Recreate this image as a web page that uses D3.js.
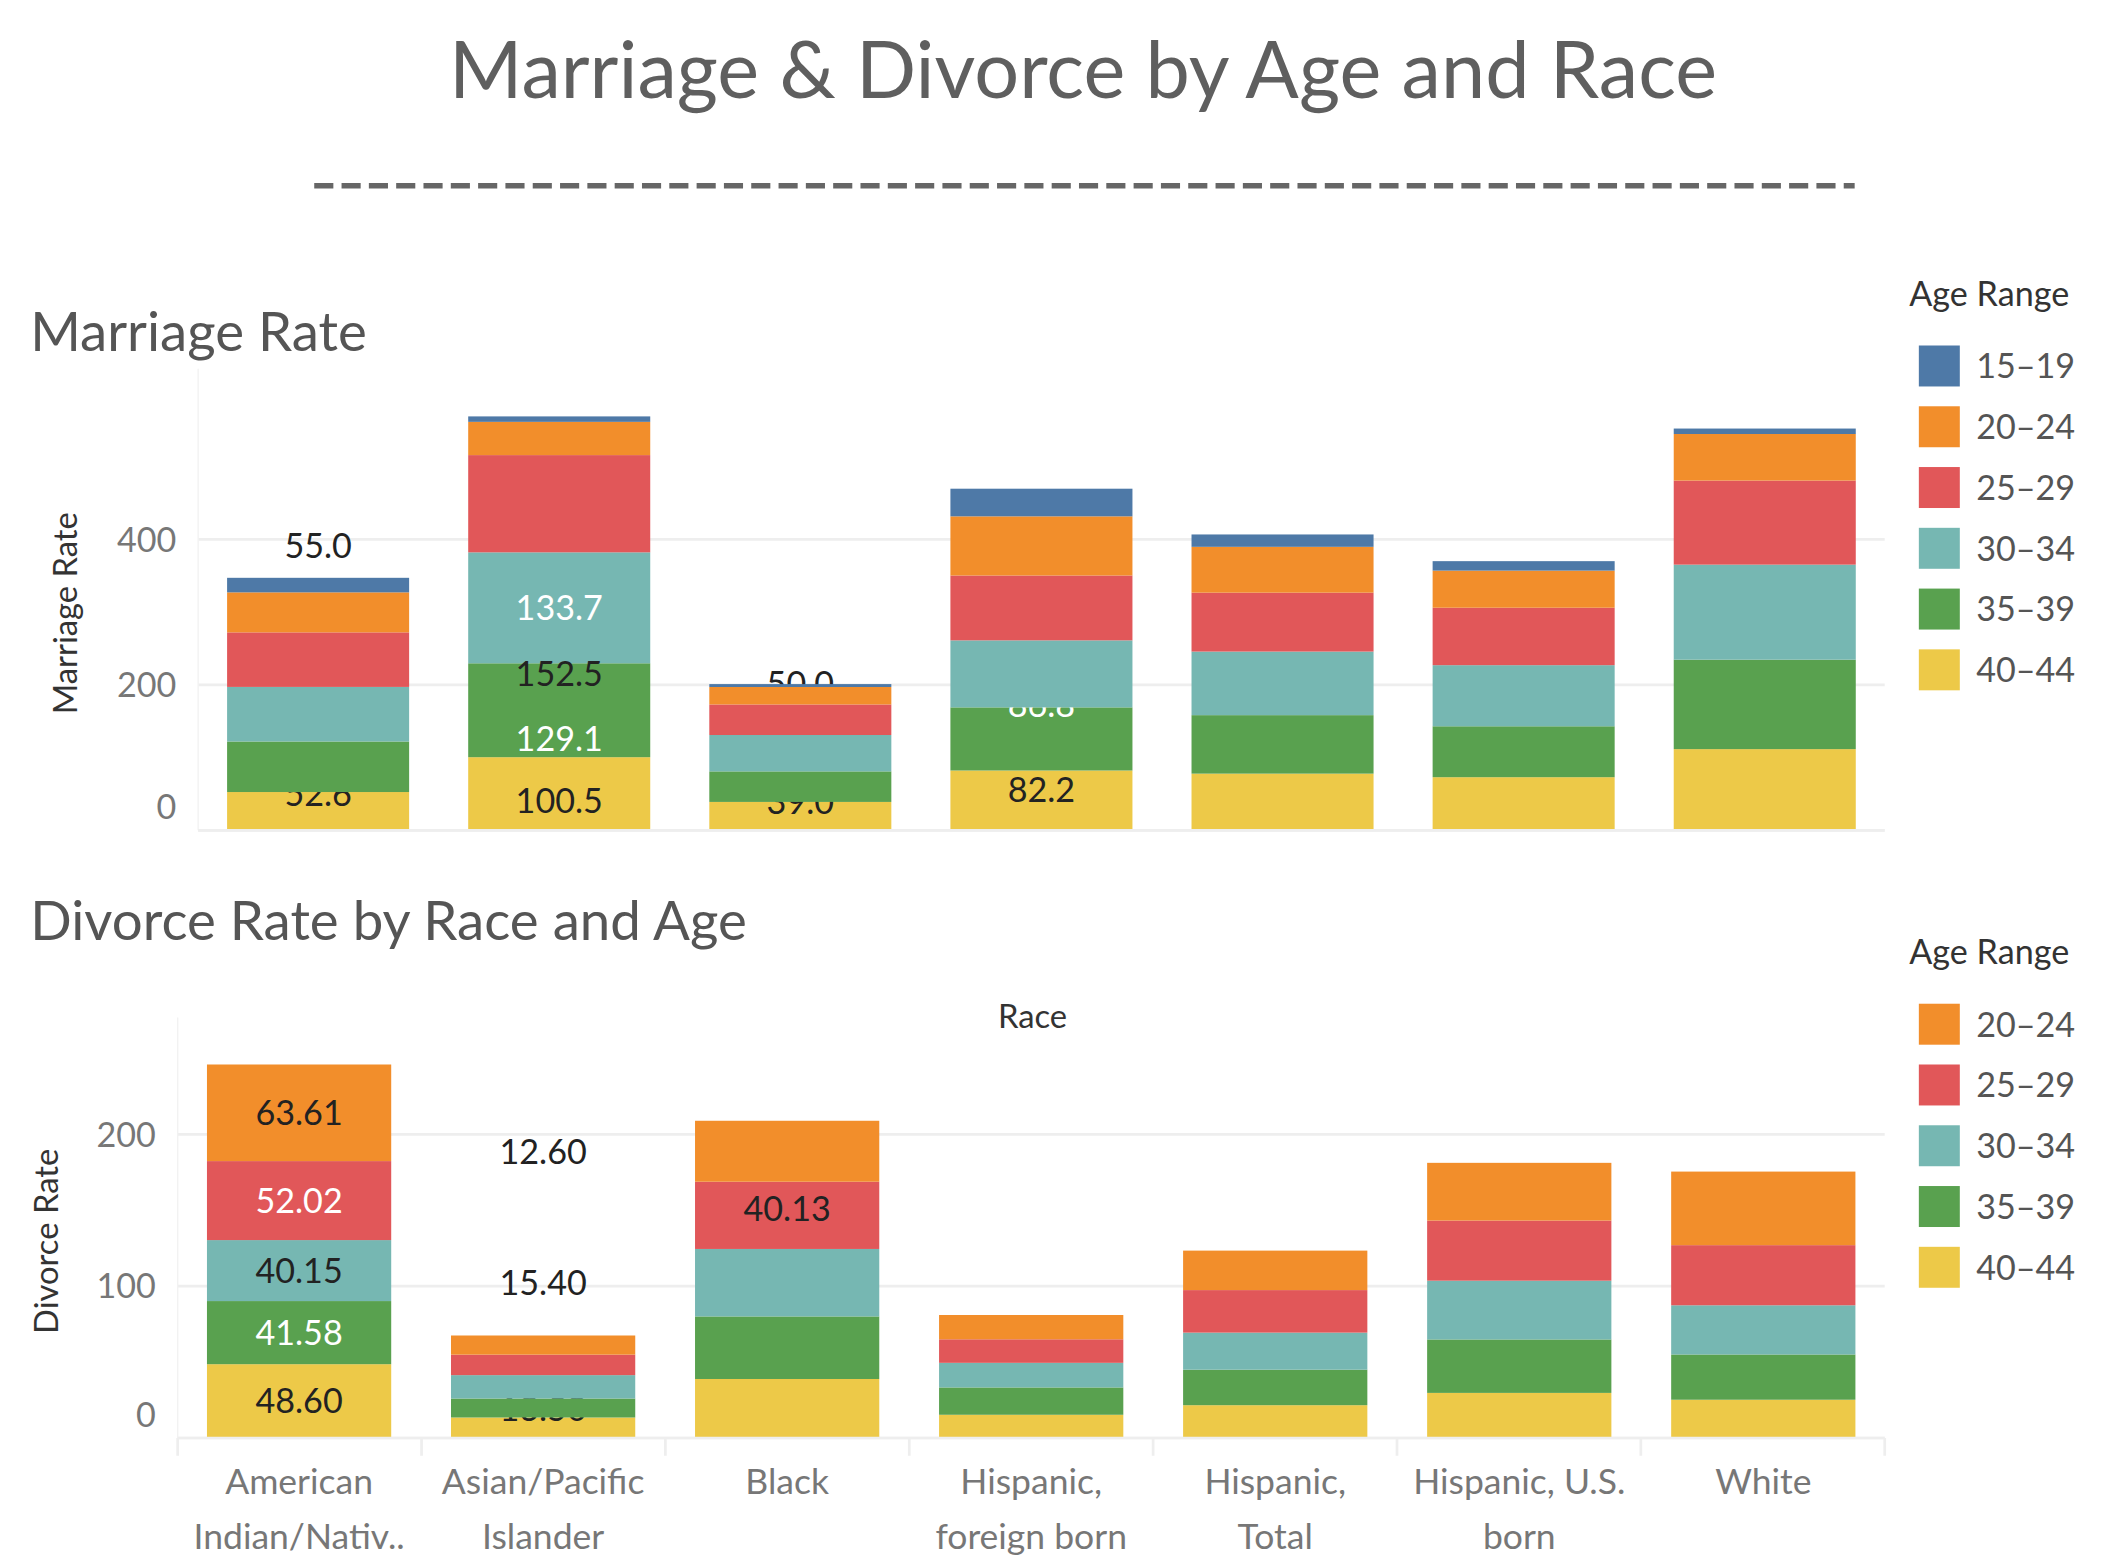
<!DOCTYPE html>
<html><head><meta charset="utf-8">
<script src="https://cdn.jsdelivr.net/npm/d3@7"></script>
<style>body{margin:0;background:#fff}svg{display:block;font-family:Lato,"Open Sans",sans-serif}</style>
</head><body><svg id="c" width="2117" height="1565" viewBox="0 0 1550 1146"></svg>
<script>
// data
var races = ["American Indian/Nativ..", "Asian/Pacific Islander", "Black", "Hispanic, foreign born", "Hispanic, Total", "Hispanic, U.S. born", "White"];
var raceLines = [["American", "Indian/Nativ.."], ["Asian/Pacific", "Islander"], ["Black"], ["Hispanic,", "foreign born"], ["Hispanic,", "Total"], ["Hispanic, U.S.", "born"], ["White"]];
var marriageAges = ["40–44", "35–39", "30–34", "25–29", "20–24", "15–19"];
var marriage = {
  "40–44": [52.6, 100.5, 39, 82.2, 77.9, 73, 111.6],
  "35–39": [69.5, 129.1, 42, 86.8, 80.4, 70, 123.0],
  "30–34": [75, 152.5, 50, 92.1, 87.4, 84, 130.6],
  "25–29": [75, 133.7, 42, 89.2, 81, 79, 115.6],
  "20–24": [55, 45.7, 24, 81.3, 63, 51, 64],
  "15–19": [20, 7.5, 4, 38, 17, 13, 7.5]
};
var marriageShown = {
  "40–44": [0, 1, 0, 1, 1, 0, 1], "35–39": [0, 1, 0, 1, 1, 0, 1], "30–34": [0, 1, 0, 1, 1, 0, 1],
  "25–29": [0, 1, 0, 1, 0, 0, 1], "20–24": [0, 0, 0, 1, 0, 0, 0], "15–19": [0, 0, 0, 0, 0, 0, 0]
};
var divorceAges = ["40–44", "35–39", "30–34", "25–29", "20–24"];
var divorce = {
  "40–44": [48.60, 13.5, 38.86, 15.3, 21.6, 29.7, 25.2],
  "35–39": [41.58, 12.5, 41.20, 18, 23.4, 35.2, 29.8],
  "30–34": [40.15, 15.4, 44.43, 16.2, 24.4, 38.7, 32.4],
  "25–29": [52.02, 13.5, 44.29, 15.5, 28, 39.6, 39.6],
  "20–24": [63.61, 12.6, 40.13, 16, 26, 38, 48.44]
};
var divorceShown = {
  "40–44": [1, 0, 1, 0, 0, 0, 0], "35–39": [1, 0, 1, 0, 0, 0, 0], "30–34": [1, 0, 1, 0, 0, 0, 0],
  "25–29": [1, 0, 1, 0, 0, 0, 0], "20–24": [1, 0, 1, 0, 0, 0, 1]
};
var legendAges = ["15–19", "20–24", "25–29", "30–34", "35–39", "40–44"];
var colors = {"15–19": "#4e79a7", "20–24": "#f28e2b", "25–29": "#e15759", "30–34": "#76b7b2", "35–39": "#59a14f", "40–44": "#edc948"};
var whiteText = {"25–29": true, "35–39": true};

var svg = d3.select("#c");
var grey = "#666";

svg.append("text").attr("x", 793).attr("y", 72).attr("text-anchor", "middle")
  .attr("font-size", 58).attr("fill", "#5f5f5f").text("Marriage & Divorce by Age and Race");
svg.append("line").attr("x1", 230).attr("x2", 1358).attr("y1", 136).attr("y2", 136)
  .attr("stroke", "#666").attr("stroke-width", 4).attr("stroke-dasharray", "14,6");

function chart(o) {
  var x = d3.scaleBand().domain(races).range([o.x0, o.x1]).paddingInner(0.245).paddingOuter(0.12);
  var y = d3.scaleLinear().domain([0, o.ymax]).range([o.base, o.top]);
  var g = svg.append("g");
  svg.append("text").attr("x", 22).attr("y", o.titleY).attr("font-size", 40).attr("fill", "#555").text(o.title);
  // grid
  g.selectAll(".gl").data(o.ticks).join("line")
    .attr("x1", o.x0).attr("x2", o.x1).attr("y1", d => y(d)).attr("y2", d => y(d))
    .attr("stroke", "#eee").attr("stroke-width", 2);
  g.append("line").attr("x1", o.x0).attr("x2", o.x0).attr("y1", o.top - 20).attr("y2", o.base).attr("stroke", "#f2f2f2");
  g.selectAll(".tl").data(o.ticks).join("text")
    .attr("x", o.x0 - 16).attr("y", d => d === 0 ? y(d) - 8 : y(d) + 9).attr("text-anchor", "end")
    .attr("font-size", 25).attr("fill", "#777").text(d => d);
  g.append("text").attr("transform", "translate(" + o.labX + "," + ((o.base + o.top) / 2) + ") rotate(-90)")
    .attr("text-anchor", "middle").attr("font-size", 24).attr("fill", "#333").text(o.yLabel);
  var stack = d3.stack().keys(o.ages).value((d, k) => o.data[k][d])(d3.range(races.length));
  stack.forEach(function (layer) {
    var age = layer.key;
    g.selectAll(null).data(layer).join("rect")
      .attr("x", (d, i) => x(races[i])).attr("width", x.bandwidth())
      .attr("y", d => y(d[1])).attr("height", d => y(d[0]) - y(d[1]))
      .attr("fill", colors[age]);
    g.selectAll(null).data(layer).join("text")
      .filter((d, i) => o.shown[age][i])
      .attr("x", (d, i) => x(races[i]) + x.bandwidth() / 2)
      .attr("y", d => (y(d[0]) + y(d[1])) / 2 + 9).attr("text-anchor", "middle")
      .attr("font-size", 25).attr("fill", whiteText[age] ? "#fff" : "#222")
      .text((d, i) => o.fmt(o.data[age][i]));
  });
  g.append("line").attr("x1", o.x0).attr("x2", o.x1).attr("y1", o.base).attr("y2", o.base).attr("stroke", "#eee").attr("stroke-width", 2);
  // legend
  var lg = svg.append("g");
  lg.append("text").attr("x", 1398).attr("y", o.legY).attr("font-size", 25).attr("fill", "#333").text("Age Range");
  var la = legendAges.filter(a => o.ages.indexOf(a) >= 0);
  la.forEach(function (a, i) {
    lg.append("rect").attr("x", 1405).attr("y", o.legY + 29 + i * 44.5).attr("width", 30).attr("height", 30).attr("fill", colors[a]);
    lg.append("text").attr("x", 1447).attr("y", o.legY + 53 + i * 44.5).attr("font-size", 25).attr("fill", "#555").text(a);
  });
  return {x: x, g: g};
}

chart({title: "Marriage Rate", titleY: 257, x0: 145, x1: 1380, base: 608, top: 290, ymax: 597, ticks: [0, 200, 400],
  yLabel: "Marriage Rate", labX: 56, ages: marriageAges, data: marriage, shown: marriageShown,
  fmt: d3.format(".1f"), legY: 224});

var dv = chart({title: "Divorce Rate by Race and Age", titleY: 688, x0: 130, x1: 1380, base: 1053, top: 765, ymax: 259, ticks: [0, 100, 200],
  yLabel: "Divorce Rate", labX: 42, ages: divorceAges, data: divorce, shown: divorceShown,
  fmt: d3.format(".2f"), legY: 706});

svg.append("text").attr("x", 756).attr("y", 753).attr("text-anchor", "middle").attr("font-size", 24).attr("fill", "#333").text("Race");
var step = (1380 - 130) / races.length;
d3.range(races.length + 1).forEach(function (i) {
  svg.append("line").attr("x1", 130 + i * step).attr("x2", 130 + i * step).attr("y1", 1053).attr("y2", 1066).attr("stroke", "#eee").attr("stroke-width", 2);
});
raceLines.forEach(function (lines, i) {
  var cx = dv.x(races[i]) + dv.x.bandwidth() / 2;
  lines.forEach(function (t, j) {
    svg.append("text").attr("x", cx).attr("y", 1094 + j * 40).attr("text-anchor", "middle")
      .attr("font-size", 26).attr("fill", "#777").text(t);
  });
});
</script></body></html>
